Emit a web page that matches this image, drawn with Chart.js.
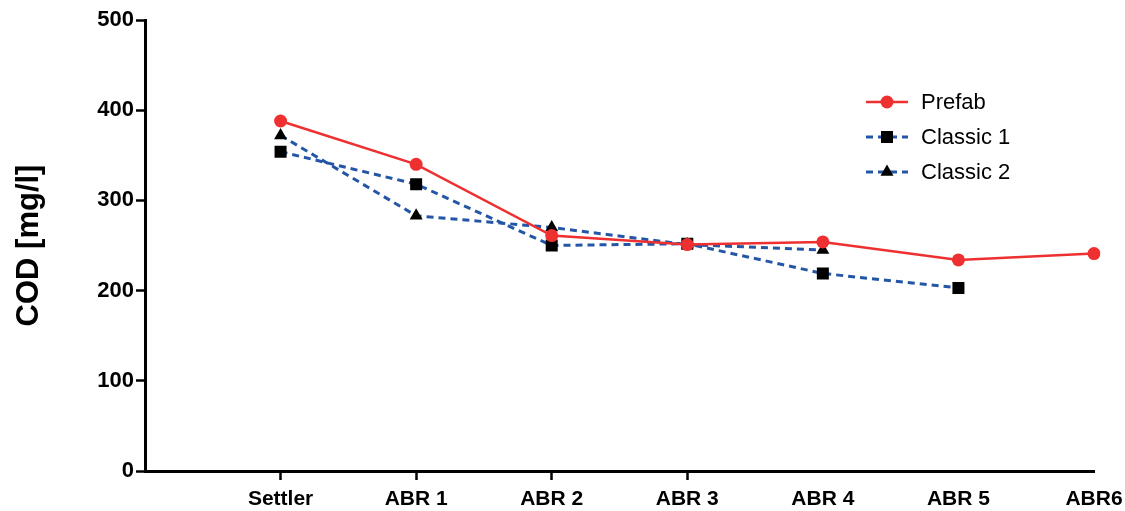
<!DOCTYPE html>
<html>
<head>
<meta charset="utf-8">
<script src="https://cdn.jsdelivr.net/npm/chart.js@4/dist/chart.umd.min.js"></script>
<style>
  html, body { margin: 0; padding: 0; background: #fff; }
  #wrap { width: 1125px; height: 511px; }
</style>
</head>
<body>
<div id="wrap"><canvas id="chart" width="1125" height="511"></canvas></div>
<script>
// categories (first slot is the empty space at the axis origin)
const stages = ['', 'Settler', 'ABR 1', 'ABR 2', 'ABR 3', 'ABR 4', 'ABR 5', 'ABR6'];
const prefab = [null, 388, 340, 261, 251, 254, 234, 241];
const classic1 = [null, 354, 318, 250, 252, 219, 203, null];
const classic2 = [null, 372, 283, 270, 251, 245, null, null];
const yTicks = [0, 100, 200, 300, 400, 500];

const red = '#ee3030';
const blue = '#2456a6';
const font = 'Arial, "Liberation Sans"';

// legend drawn inside the plot, like the original figure
const innerLegend = {
  id: 'innerLegend',
  afterDraw(chart) {
    const c = chart.ctx;
    c.save();
    chart.data.datasets.forEach((ds, i) => {
      const y = 102 + i * 35;
      c.strokeStyle = ds.borderColor;
      c.lineWidth = ds.borderWidth;
      c.setLineDash(ds.borderDash);
      c.beginPath();
      c.moveTo(866, y);
      c.lineTo(908, y);
      c.stroke();
      c.setLineDash([]);
      c.fillStyle = ds.pointBackgroundColor;
      Chart.helpers.drawPoint(c, {
        pointStyle: ds.pointStyle,
        radius: ds.pointRadius,
        borderWidth: 0
      }, 887, y);
      c.fillStyle = '#000';
      c.font = '22px ' + font;
      c.textBaseline = 'middle';
      c.fillText(ds.label, 921, y + 1);
    });
    c.restore();
  }
};

const makeSet = (label, data, color, style, radius, dash) => ({
  label: label,
  data: data,
  borderColor: color,
  borderWidth: dash.length ? 3 : 2.5,
  borderDash: dash,
  pointStyle: style,
  pointRadius: radius,
  pointHoverRadius: radius,
  pointBackgroundColor: style === 'circle' ? red : '#000',
  pointBorderColor: style === 'circle' ? red : '#000',
  pointBorderWidth: 0,
  fill: false,
  tension: 0,
  spanGaps: false
});

new Chart(document.getElementById('chart'), {
  type: 'line',
  data: {
    labels: stages,
    datasets: [
      makeSet('Prefab', prefab, red, 'circle', 6.5, []),
      makeSet('Classic 1', classic1, blue, 'rect', 8.5, [7, 5]),
      makeSet('Classic 2', classic2, blue, 'triangle', 7.5, [7, 5])
    ]
  },
  options: {
    responsive: false,
    animation: false,
    layout: { padding: { top: 20, right: 31, left: 0, bottom: 0 } },
    plugins: {
      legend: { display: false },
      tooltip: { enabled: false }
    },
    scales: {
      x: {
        type: 'category',
        offset: false,
        border: { display: true, color: '#000', width: 3 },
        grid: {
          drawOnChartArea: false,
          tickLength: 9,
          tickWidth: 2.5,
          tickColor: ctx => (ctx.index >= 1 && ctx.index <= 4) ? '#000' : 'rgba(0,0,0,0)'
        },
        ticks: {
          color: '#000',
          padding: 7,
          maxRotation: 0,
          autoSkip: false,
          font: { family: font, size: 21, weight: 'bold' }
        },
        afterFit(scale) {
          scale.height = 40;
          scale.paddingRight = 0;
        }
      },
      y: {
        min: 0,
        max: 500,
        afterBuildTicks(scale) { scale.ticks = yTicks.map(v => ({ value: v })); },
        border: { display: true, color: '#000', width: 3 },
        grid: {
          drawOnChartArea: false,
          tickLength: 9,
          tickWidth: 2.5,
          tickColor: '#000'
        },
        ticks: {
          color: '#000',
          padding: 2,
          font: { family: font, size: 22, weight: 'bold' }
        },
        title: {
          display: true,
          text: 'COD [mg/l]',
          color: '#000',
          padding: { top: 11, bottom: 0 },
          font: { family: font, size: 31, weight: 'bold' }
        },
        afterFit(scale) { scale.width = 145; }
      }
    }
  },
  plugins: [innerLegend]
});
</script>
</body>
</html>
